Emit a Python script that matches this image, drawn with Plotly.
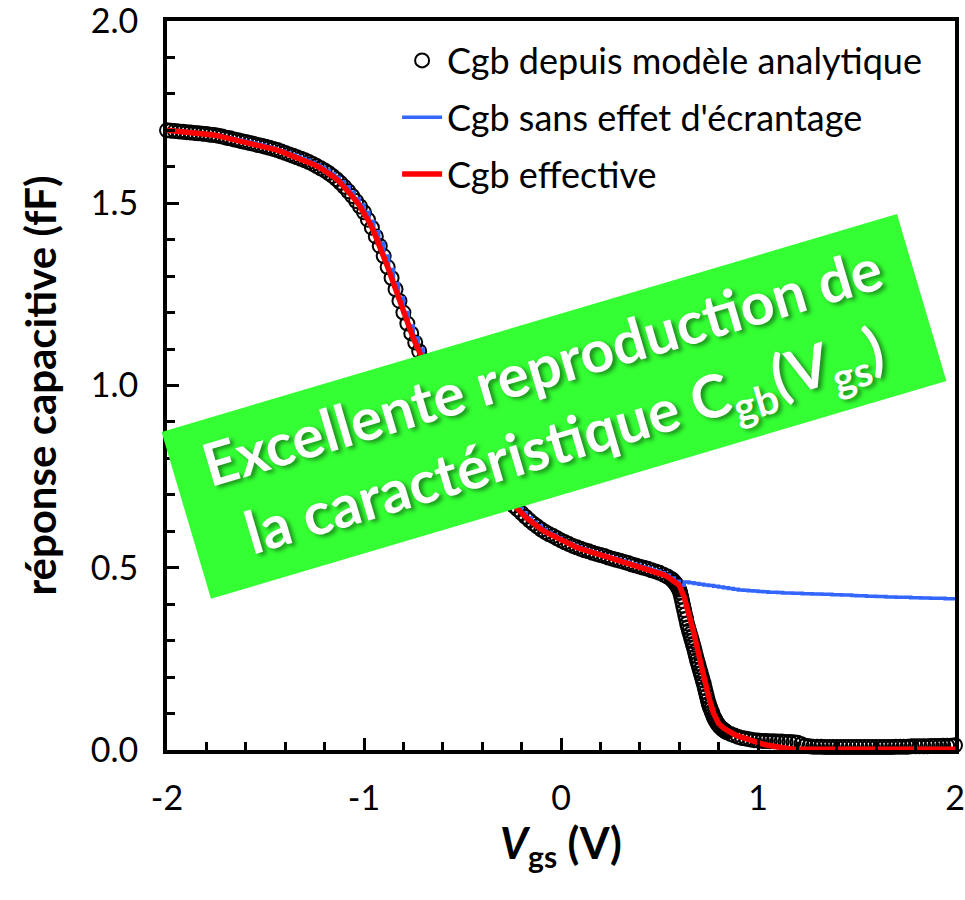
import plotly.graph_objects as go

# ---------------- data ----------------
# Cgb from the analytical model (open circles): three x grids with their values
model_x_a = [round(-2.0 + 0.02 * i, 3) for i in range(129)]      # -2.00 .. 0.56
model_y_a = [
    1.700, 1.699, 1.698, 1.697, 1.696, 1.695, 1.694, 1.693, 1.692, 1.691,
    1.690, 1.688, 1.687, 1.685, 1.683, 1.680, 1.678, 1.675, 1.673, 1.670,
    1.668, 1.665, 1.663, 1.660, 1.658, 1.655, 1.652, 1.649, 1.646, 1.642,
    1.638, 1.634, 1.630, 1.626, 1.622, 1.618, 1.613, 1.608, 1.602, 1.596,
    1.590, 1.583, 1.575, 1.566, 1.556, 1.545, 1.533, 1.520, 1.506, 1.491,
    1.475, 1.455, 1.433, 1.409, 1.383, 1.355, 1.325, 1.295, 1.264, 1.232,
    1.200, 1.170, 1.143, 1.118, 1.094, 1.070, 1.042, 1.014, 0.987, 0.962,
    0.940, 0.919, 0.899, 0.880, 0.862, 0.845, 0.828, 0.812, 0.798, 0.784,
    0.770, 0.756, 0.742, 0.729, 0.717, 0.705, 0.693, 0.681, 0.670, 0.660,
    0.650, 0.640, 0.630, 0.621, 0.613, 0.605, 0.598, 0.592, 0.587, 0.581,
    0.575, 0.570, 0.565, 0.560, 0.556, 0.552, 0.548, 0.545, 0.541, 0.538,
    0.535, 0.532, 0.528, 0.525, 0.522, 0.519, 0.516, 0.513, 0.509, 0.506,
    0.503, 0.500, 0.497, 0.493, 0.490, 0.486, 0.481, 0.476, 0.469,
]
model_x_b = [round(0.565 + 0.005 * i, 3) for i in range(56)]      # 0.565 .. 0.84
model_y_b = [
    0.467, 0.464, 0.461, 0.458, 0.454, 0.450, 0.445, 0.440, 0.432, 0.421,
    0.409, 0.396, 0.384, 0.372, 0.360, 0.347, 0.337, 0.327, 0.318, 0.308,
    0.299, 0.289, 0.280, 0.269, 0.258, 0.247, 0.238, 0.229, 0.219, 0.210,
    0.200, 0.191, 0.181, 0.170, 0.159, 0.148, 0.137, 0.127, 0.119, 0.112,
    0.105, 0.098, 0.091, 0.086, 0.081, 0.076, 0.072, 0.068, 0.065, 0.062,
    0.060, 0.057, 0.055, 0.053, 0.051, 0.049,
]
model_x_c = [round(0.86 + 0.02 * i, 3) for i in range(58)]        # 0.86 .. 2.00
model_y_c = [
    0.044, 0.040, 0.036, 0.033, 0.031, 0.029, 0.027, 0.026, 0.025, 0.025,
    0.024, 0.024, 0.023, 0.023, 0.022, 0.022, 0.021, 0.020, 0.016, 0.012,
    0.010, 0.009, 0.009, 0.009, 0.008, 0.008, 0.008, 0.008, 0.008, 0.008,
    0.008, 0.008, 0.008, 0.008, 0.008, 0.008, 0.008, 0.008, 0.008, 0.008,
    0.008, 0.008, 0.009, 0.009, 0.009, 0.009, 0.010, 0.010, 0.010, 0.010,
    0.010, 0.011, 0.011, 0.011, 0.012, 0.012, 0.012, 0.013,
]
vgs_model = model_x_a + model_x_b + model_x_c
cgb_model = model_y_a + model_y_b + model_y_c

# Cgb effective (red) on a 0.025 V grid, -2 .. 2
vgs_line = [round(-2.0 + 0.025 * i, 3) for i in range(161)]
cgb_effective = [
    1.700, 1.699, 1.698, 1.697, 1.695, 1.694, 1.693, 1.691, 1.690, 1.688,
    1.686, 1.683, 1.680, 1.677, 1.674, 1.671, 1.668, 1.665, 1.662, 1.659,
    1.655, 1.651, 1.647, 1.643, 1.638, 1.633, 1.628, 1.623, 1.618, 1.612,
    1.605, 1.598, 1.590, 1.581, 1.571, 1.559, 1.545, 1.530, 1.513, 1.495,
    1.475,
    1.450, 1.422, 1.390, 1.355, 1.318, 1.280, 1.240, 1.200, 1.163, 1.130,
    1.100, 1.070, 1.035, 1.000, 0.968, 0.940, 0.914, 0.890, 0.867, 0.845,
    0.824, 0.805, 0.787, 0.770, 0.752, 0.735, 0.720, 0.705, 0.690, 0.675,
    0.662, 0.650, 0.637, 0.625, 0.615, 0.605, 0.597, 0.590, 0.582, 0.575,
    0.568, 0.562, 0.557, 0.552, 0.547, 0.543, 0.539, 0.535, 0.531, 0.527,
    0.523, 0.519, 0.515, 0.511, 0.507, 0.503, 0.499, 0.495, 0.491, 0.486,
    0.480, 0.472, 0.463, 0.452, 0.420, 0.375, 0.320, 0.260, 0.200, 0.145,
    0.100, 0.073, 0.060, 0.051, 0.044, 0.038, 0.033, 0.028, 0.024, 0.019,
    0.016, 0.013, 0.010, 0.008, 0.006, 0.004, 0.003, 0.002, 0.002, 0.002,
    0.002, 0.002, 0.002, 0.002, 0.002, 0.002, 0.002, 0.002, 0.002, 0.002,
    0.002, 0.002, 0.002, 0.002, 0.002, 0.002, 0.002, 0.002, 0.002, 0.002,
    0.002, 0.002, 0.002, 0.002, 0.002, 0.002, 0.002, 0.002, 0.002, 0.002,
]
# Cgb without screening (blue): identical up to 0.6 V, then its own plateau
sans_tail = [
    0.461, 0.459, 0.457, 0.455, 0.453, 0.451, 0.449, 0.447, 0.445, 0.443,
    0.441, 0.439, 0.438, 0.437, 0.436, 0.435, 0.434, 0.433, 0.433, 0.432,
    0.431, 0.431, 0.430, 0.430, 0.429, 0.429, 0.428, 0.428, 0.427, 0.427,
    0.426, 0.426, 0.425, 0.425, 0.424, 0.423, 0.423, 0.422, 0.422, 0.421,
    0.421, 0.420, 0.420, 0.419, 0.419, 0.419, 0.418, 0.418, 0.417, 0.417,
    0.416, 0.416, 0.416, 0.415, 0.415, 0.415,
]
cgb_sans = cgb_effective[:161 - len(sans_tail)] + sans_tail

legend_names = ["Cgb depuis modèle analytique",
                "Cgb sans effet d'écrantage",
                "Cgb effective"]

FONT = "Lato"

fig = go.Figure()
fig.add_trace(go.Scatter(
    x=vgs_model, y=cgb_model, name=legend_names[0], mode="markers",
    marker=dict(symbol="circle-open", size=14, color="black",
                line=dict(width=2, color="black")),
    cliponaxis=False, legendgroup="a"))
fig.add_trace(go.Scatter(
    x=vgs_line, y=cgb_sans, name=legend_names[1], mode="lines",
    line=dict(color="#3366FF", width=3.5, shape="hv"), legendgroup="b"))
fig.add_trace(go.Scatter(
    x=vgs_line, y=cgb_effective, name=legend_names[2], mode="lines+markers",
    line=dict(color="#FF0000", width=5.5), marker=dict(size=4, color="#FF0000"),
    cliponaxis=False, legendgroup="c"))

fig.add_annotation(
    xref="paper", yref="paper", x=0.4908, y=0.4712,
    xanchor="center", yanchor="middle",
    text="Excellente reproduction de<br>la caractéristique C<sub>gb</sub>(V<sub>gs</sub>)",
    showarrow=False, textangle=-16.5, align="center",
    width=766, height=173, borderpad=0, bgcolor="#33FF33",
    font=dict(family=FONT, size=59, color="white", weight="bold",
              shadow="3px 3px 4px rgba(0,0,0,0.45)"))

axis_common = dict(
    showline=True, linecolor="black", linewidth=4, mirror=True,
    ticks="inside", ticklen=12, tickwidth=2.5, tickcolor="black",
    showgrid=False, zeroline=False, ticklabeloverflow="allow",
    tickfont=dict(family=FONT, size=34, color="black"),
)

fig.update_xaxes(
    range=[-2, 2], tickmode="linear", tick0=-2, dtick=1,
    labelalias={"\u22122": "-2", "\u22121": "-1"},
    minor=dict(dtick=0.2, tick0=-2, ticks="inside", ticklen=8,
               tickwidth=2.5, tickcolor="black"),
    ticklabelstandoff=15,
    title=dict(text="<b><i>V</i><sub>gs</sub> (V)</b>",
               font=dict(family=FONT, size=43, color="black"), standoff=14),
    **axis_common)
fig.update_yaxes(
    range=[0, 2], tickmode="linear", tick0=0, dtick=0.5, tickformat=".1f",
    minor=dict(dtick=0.1, tick0=0, ticks="inside", ticklen=8,
               tickwidth=2.5, tickcolor="black"),
    ticklabelstandoff=18,
    title=dict(text="<b>réponse capacitive (fF)</b>",
               font=dict(family=FONT, size=42, color="black"), standoff=22),
    **axis_common)

fig.update_layout(
    width=965, height=900,
    margin=dict(l=167, r=10, t=21, b=150, autoexpand=False),
    paper_bgcolor="white", plot_bgcolor="white",
    showlegend=True,
    legend=dict(x=0.292, y=0.987, xanchor="left", yanchor="top",
                bgcolor="rgba(0,0,0,0)", borderwidth=0,
                font=dict(family=FONT, size=36, color="black"),
                traceorder="grouped", tracegroupgap=7, itemwidth=40),
    font=dict(family=FONT),
)

fig.write_html("out.html")
